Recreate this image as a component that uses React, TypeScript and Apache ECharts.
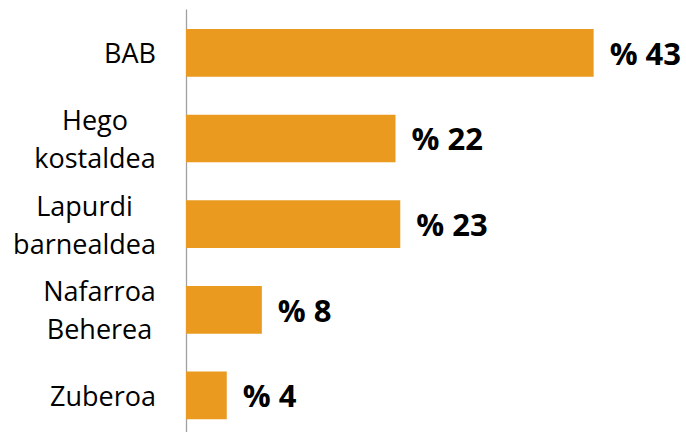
import React, { useEffect, useRef } from "react";
import * as echarts from "echarts";

const categories: string[] = ["BAB", "Hego\nkostaldea", "Lapurdi\nbarnealdea", "Nafarroa\nBeherea", "Zuberoa"];
const values: number[] = [43, 22.1, 22.6, 8, 4.3];
const valueLabels: string[] = ["% 43", "% 22", "% 23", "% 8", "% 4"];

const CAT_FONT = 27;
const CAT_FAMILY = '"Open Sans", sans-serif';

function measure(text: string): number {
  const c = document.createElement("canvas").getContext("2d");
  if (!c) return text.length * CAT_FONT * 0.55;
  c.font = `${CAT_FONT}px "Open Sans"`;
  return c.measureText(text).width;
}

export default function App() {
  const ref = useRef<HTMLDivElement>(null);
  useEffect(() => {
    if (!ref.current) return;
    const chart = echarts.init(ref.current, undefined, { renderer: "svg" });
    const rich: Record<string, any> = {};
    categories.forEach((cat, i) => {
      const w = Math.max(...cat.split("\n").map(measure));
      rich["c" + i] = {
        width: Math.ceil(w),
        align: "center",
        fontSize: CAT_FONT,
        fontFamily: CAT_FAMILY,
        lineHeight: 38,
        color: "#000",
      };
    });
    chart.setOption({
      animation: false,
      backgroundColor: "#fff",
      grid: { left: 186, top: 10, height: 428.3, width: 474 },
      xAxis: {
        type: "value",
        min: 0,
        max: 50,
        show: false,
        splitLine: { show: false },
      },
      yAxis: {
        type: "category",
        inverse: true,
        data: categories,
        axisLine: { show: true, lineStyle: { color: "#a0a0a0", width: 1.3 } },
        axisTick: { show: false },
        axisLabel: {
          margin: 30,
          align: "right",
          formatter: (v: string) => {
            const i = categories.indexOf(v);
            return v
              .split("\n")
              .map((l) => `{c${i}|${l}}`)
              .join("\n");
          },
          rich,
        },
      },
      series: [
        {
          type: "bar",
          data: values,
          barWidth: 47.7,
          itemStyle: { color: "#E99A1F" },
          label: {
            show: true,
            position: "right",
            distance: 16,
            formatter: (p: any) => valueLabels[p.dataIndex],
            color: "#000",
            fontWeight: "bold",
            fontSize: 31,
            fontFamily: '"Open Sans", sans-serif',
          },
        },
      ],
    });
    return () => chart.dispose();
  }, []);
  return (
    <div
      ref={ref}
      style={{ position: "fixed", left: 0, top: 0, width: 686, height: 442 }}
    />
  );
}
